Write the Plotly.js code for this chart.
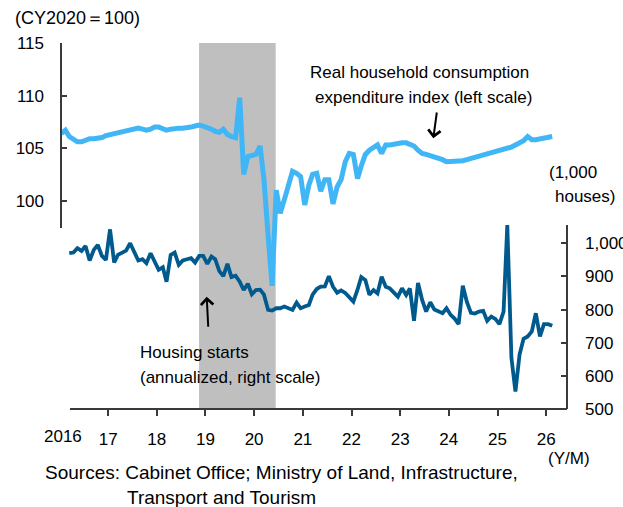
<!DOCTYPE html>
<html><head><meta charset="utf-8">
<script src="https://cdn.plot.ly/plotly-3.0.1.min.js"></script>
<style>html,body{margin:0;padding:0;background:#fff}#chart{width:623px;height:507px}</style>
</head><body><div id="chart"></div>
<script>
// ---- data (monthly) ----
const consumptionStart = [2016, 1];   // Jan 2016
const consumption = [
  106.4,106.7,106.1,105.8,105.6,105.6,105.8,105.9,105.9,105.9,
  106.0,106.2,106.3,106.4,106.5,106.6,106.7,106.8,106.9,106.9,
  106.8,106.7,106.8,107.0,107.0,106.8,106.7,106.8,106.9,106.9,
  106.9,106.9,107.0,107.1,107.2,107.1,107.0,106.8,106.6,106.5,
  106.8,106.3,106.1,106.0,109.8,102.5,104.2,104.3,104.4,105.2,
  102.0,96.7,91.9,101.0,98.8,100.1,101.5,102.8,102.6,102.3,
  99.6,101.5,102.5,102.6,100.9,102.0,102.0,99.7,101.3,102.0,
  103.7,104.5,104.4,102.1,103.3,104.4,104.8,105.1,105.3,104.5,
  105.3,105.3,105.4,105.4,105.5,105.5,105.4,105.2,104.8,104.5,
  104.4,104.3,104.2,104.0,103.9,103.7,103.7,103.7,103.8,103.8,
  103.9,104.0,104.1,104.3,104.3,104.4,104.5,104.6,104.7,104.8,
  104.9,105.1,105.3,105.5,105.7,106.1,105.8,105.8,105.9,106.0,
  106.0,106.1
];
const housingStart = [2016, 3];       // Mar 2016
const housing = [
  970,972,985,977,992,948,980,995,962,950,
  1042,942,965,972,978,1000,975,948,952,940,
  970,942,920,928,884,965,972,935,948,952,
  955,942,962,962,938,960,952,916,901,938,
  898,902,884,859,878,846,859,860,845,799,
  797,804,804,809,804,799,821,804,809,814,
  845,862,869,870,901,869,851,858,850,838,
  824,860,898,889,845,859,849,899,869,864,
  852,839,864,844,864,766,880,829,794,822,
  800,795,789,804,784,772,756,872,824,790,
  788,794,796,766,779,772,756,794,1055,654,
  553,664,712,719,734,789,719,756,756,751
];
const yearTicks = ['2017-01-01','2018-01-01','2019-01-01','2020-01-01','2021-01-01',
                   '2022-01-01','2023-01-01','2024-01-01','2025-01-01','2026-01-01'];
const yearLabels = ['17','18','19','20','21','22','23','24','25','26'];
const leftTicks = [100,105,110,115];
const rightTicks = [500,600,700,800,900,1000];
const rightLabels = ['500','600','700','800','900','1,000'];
const recession = ['2018-11-14','2020-06-11'];

function monthDates(start, n){
  const out=[];
  for(let i=0;i<n;i++){
    const t=start[1]-1+i, y=start[0]+Math.floor(t/12), m=t%12+1;
    out.push(y+'-'+String(m).padStart(2,'0')+'-15');
  }
  return out;
}

const W=623,H=507,L=61,R=56,T=43,B=98;
const pw=W-L-R, ph=H-T-B;
const px=v=>(v-L)/pw, py=v=>(H-B-v)/ph;
const FONT='Liberation Sans, Arial, sans-serif';
const AX='#3a3a3a';
const tf={family:FONT,size:17,color:'#000'};

const traces=[
  {x:monthDates(consumptionStart,consumption.length),y:consumption,type:'scatter',mode:'lines',
   line:{color:'#41B6F6',width:5},yaxis:'y',hoverinfo:'skip'},
  {x:monthDates(housingStart,housing.length),y:housing,type:'scatter',mode:'lines',
   line:{color:'#005A8E',width:3.8},yaxis:'y2',hoverinfo:'skip'}
];

function txt(t,x,y,xa,size){
  return {text:t,xref:'paper',yref:'paper',x:px(x),y:py(y),xanchor:xa||'left',yanchor:'middle',
          showarrow:false,font:{family:FONT,size:size||17,color:'#000'}};
}
function arrow(hx,hy,tx,ty){
  return {text:'',xref:'paper',yref:'paper',x:px(hx),y:py(hy),ax:tx-hx,ay:ty-hy,axref:'pixel',ayref:'pixel',
          showarrow:true,arrowhead:4,arrowsize:1.2,arrowwidth:2,arrowcolor:'#000'};
}

const layout={
  width:W,height:H,margin:{l:L,r:R,t:T,b:B,pad:0},
  paper_bgcolor:'#fff',plot_bgcolor:'rgba(0,0,0,0)',showlegend:false,
  xaxis:{type:'date',range:['2016-01-13','2026-06-06'],tickvals:yearTicks,ticktext:yearLabels,
    ticks:'outside',ticklen:6,tickwidth:2,tickcolor:AX,showline:false,showgrid:false,zeroline:false,
    tickfont:tf,ticklabelstandoff:9},
  yaxis:{range:[80.18,115],tickvals:leftTicks,ticks:'inside',ticklen:6,tickwidth:2,tickcolor:AX,
    showline:false,showgrid:false,zeroline:false,tickfont:tf,ticklabelstandoff:16},
  yaxis2:{overlaying:'y',side:'right',range:[500,1604.4],tickvals:rightTicks,ticktext:rightLabels,
    ticks:'inside',ticklen:6,tickwidth:2,tickcolor:AX,showline:false,showgrid:false,zeroline:false,
    tickfont:tf,ticklabelstandoff:17},
  shapes:[
    {type:'rect',xref:'x',yref:'paper',x0:recession[0],x1:recession[1],y0:0,y1:1,
     fillcolor:'#BFBFBF',line:{width:0},layer:'below'},
    {type:'line',xref:'paper',yref:'y',x0:0,x1:0,y0:97.4,y1:115,line:{color:AX,width:2}},
    {type:'line',xref:'paper',yref:'y2',x0:1,x1:1,y0:500,y1:1055,line:{color:AX,width:2}},
    {type:'line',xref:'paper',yref:'paper',x0:px(70),x1:1,y0:0,y1:0,line:{color:AX,width:2}}
  ],
  annotations:[
    txt('(CY2020\uFF1D100)',13,18,'left',18),
    txt('Real household consumption',419.5,72,'center'),
    txt('expenditure index (left scale)',423.8,97,'center'),
    txt('Housing starts',138,352),
    txt('(annualized, right scale)',138,377),
    txt('(1,000',547,173),
    txt('houses)',553,196),
    txt('(Y/M)',569,458,'center'),
    txt('2016',62.5,436,'center'),
    txt('Sources: Cabinet Office; Ministry of Land, Infrastructure,',42.7,472,'left',19),
    txt('Transport and Tourism',125,497,'left',19),
    arrow(433.3,138.3,437,111),
    arrow(206.7,296.7,208.3,328.3)
  ]
};
Plotly.newPlot('chart',traces,layout,{staticPlot:true,displayModeBar:false});
</script></body></html>
